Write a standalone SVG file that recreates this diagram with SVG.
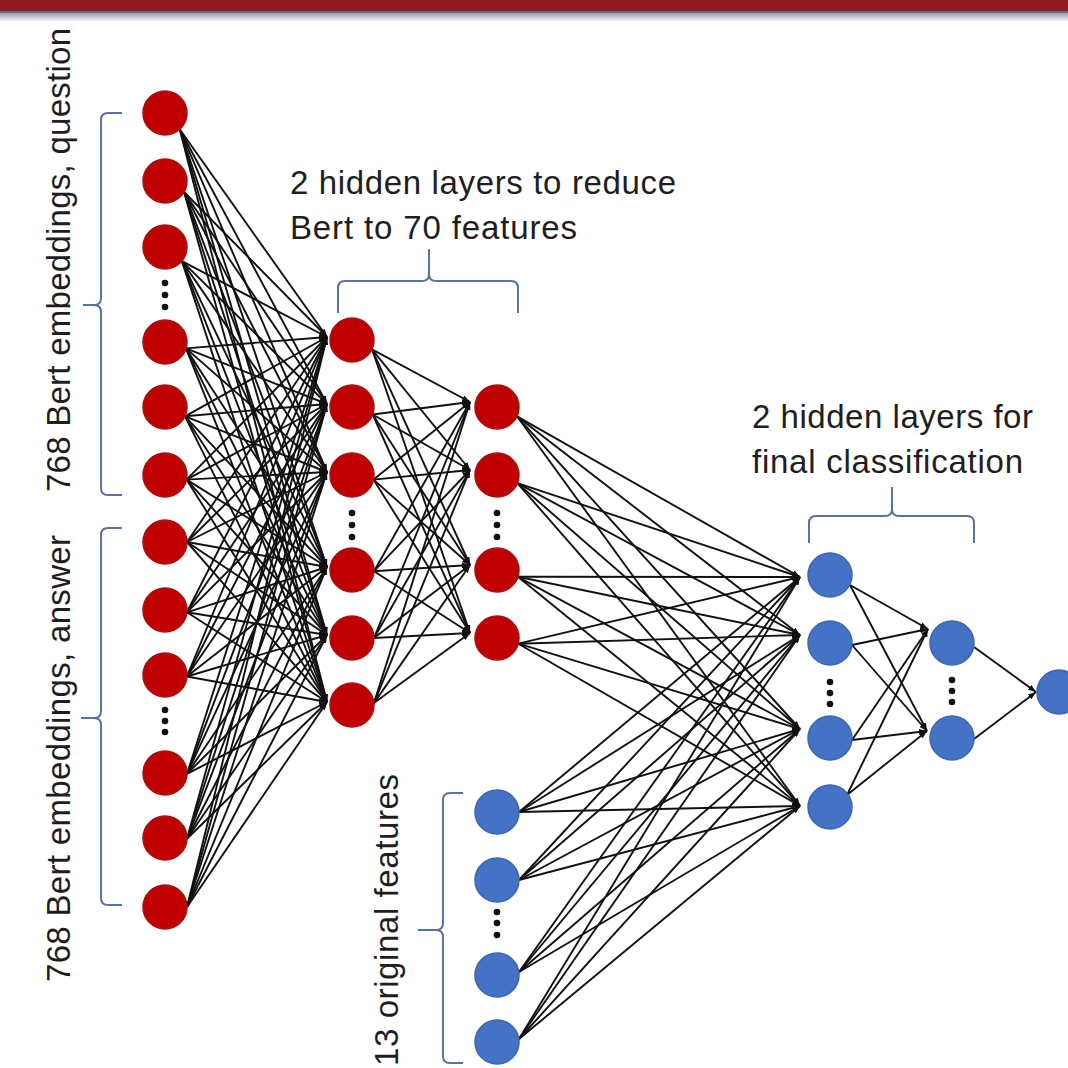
<svg xmlns="http://www.w3.org/2000/svg" width="1068" height="1068" viewBox="0 0 1068 1068">
<defs>
<linearGradient id="shadow" x1="0" y1="0" x2="0" y2="1">
<stop offset="0" stop-color="#9aa0aa"/>
<stop offset="1" stop-color="#ffffff"/>
</linearGradient>
<marker id="arr" markerUnits="userSpaceOnUse" markerWidth="8" markerHeight="6" refX="8" refY="3" orient="auto">
<path d="M0,0 L8,3 L0,6 z" fill="#111"/>
</marker>
</defs>
<style>
.c line{stroke:#111;stroke-width:1.9;marker-end:url(#arr)}
.r{fill:#c00000;stroke:#a51212;stroke-width:1.5}
.b{fill:#4472c4;stroke:#3c66b2;stroke-width:1.5}
.d{fill:#111}
.br{fill:none;stroke:#5873a3;stroke-width:2}
.t{font-family:"Liberation Sans",Arial,sans-serif;font-size:33px;fill:#1e1e1e}
</style>
<rect x="0" y="0" width="1068" height="1068" fill="#ffffff"/>
<g id="top-bar">
<rect x="0" y="0" width="1068" height="11" fill="#8e1b1e"/>
<rect x="0" y="11" width="1068" height="2" fill="#5a6b8c"/>
<rect x="0" y="13" width="1068" height="9" fill="url(#shadow)"/>
</g>
<g id="connectors" class="c">
<!-- input -> hidden1 -->
<line x1="179.7" y1="129.3" x2="327" y2="337"/><line x1="179.7" y1="129.3" x2="327" y2="404"/><line x1="179.7" y1="129.3" x2="327" y2="472"/><line x1="179.7" y1="129.3" x2="327" y2="567"/><line x1="179.7" y1="129.3" x2="327" y2="635"/><line x1="179.7" y1="129.3" x2="327" y2="702"/>
<line x1="184.1" y1="192" x2="327" y2="337"/><line x1="184.1" y1="192" x2="327" y2="404"/><line x1="184.1" y1="192" x2="327" y2="472"/><line x1="184.1" y1="192" x2="327" y2="567"/><line x1="184.1" y1="192" x2="327" y2="635"/><line x1="184.1" y1="192" x2="327" y2="702"/>
<line x1="181.9" y1="261.1" x2="327" y2="337"/><line x1="181.9" y1="261.1" x2="327" y2="404"/><line x1="181.9" y1="261.1" x2="327" y2="472"/><line x1="181.9" y1="261.1" x2="327" y2="567"/><line x1="181.9" y1="261.1" x2="327" y2="635"/><line x1="181.9" y1="261.1" x2="327" y2="702"/>
<line x1="186" y1="348.4" x2="327" y2="337"/><line x1="186" y1="348.4" x2="327" y2="404"/><line x1="186" y1="348.4" x2="327" y2="472"/><line x1="186" y1="348.4" x2="327" y2="567"/><line x1="186" y1="348.4" x2="327" y2="635"/><line x1="186" y1="348.4" x2="327" y2="702"/>
<line x1="185" y1="416.3" x2="327" y2="337"/><line x1="185" y1="416.3" x2="327" y2="404"/><line x1="185" y1="416.3" x2="327" y2="472"/><line x1="185" y1="416.3" x2="327" y2="567"/><line x1="185" y1="416.3" x2="327" y2="635"/><line x1="185" y1="416.3" x2="327" y2="702"/>
<line x1="186.5" y1="479.6" x2="327" y2="337"/><line x1="186.5" y1="479.6" x2="327" y2="404"/><line x1="186.5" y1="479.6" x2="327" y2="472"/><line x1="186.5" y1="479.6" x2="327" y2="567"/><line x1="186.5" y1="479.6" x2="327" y2="635"/><line x1="186.5" y1="479.6" x2="327" y2="702"/>
<line x1="187" y1="542" x2="327" y2="337"/><line x1="187" y1="542" x2="327" y2="404"/><line x1="187" y1="542" x2="327" y2="472"/><line x1="187" y1="542" x2="327" y2="567"/><line x1="187" y1="542" x2="327" y2="635"/><line x1="187" y1="542" x2="327" y2="702"/>
<line x1="186.9" y1="612.3" x2="327" y2="337"/><line x1="186.9" y1="612.3" x2="327" y2="404"/><line x1="186.9" y1="612.3" x2="327" y2="472"/><line x1="186.9" y1="612.3" x2="327" y2="567"/><line x1="186.9" y1="612.3" x2="327" y2="635"/><line x1="186.9" y1="612.3" x2="327" y2="702"/>
<line x1="186.9" y1="676.5" x2="327" y2="337"/><line x1="186.9" y1="676.5" x2="327" y2="404"/><line x1="186.9" y1="676.5" x2="327" y2="472"/><line x1="186.9" y1="676.5" x2="327" y2="567"/><line x1="186.9" y1="676.5" x2="327" y2="635"/><line x1="186.9" y1="676.5" x2="327" y2="702"/>
<line x1="187" y1="773.8" x2="327" y2="337"/><line x1="187" y1="773.8" x2="327" y2="404"/><line x1="187" y1="773.8" x2="327" y2="472"/><line x1="187" y1="773.8" x2="327" y2="567"/><line x1="187" y1="773.8" x2="327" y2="635"/><line x1="187" y1="773.8" x2="327" y2="702"/>
<line x1="187" y1="838.8" x2="327" y2="337"/><line x1="187" y1="838.8" x2="327" y2="404"/><line x1="187" y1="838.8" x2="327" y2="472"/><line x1="187" y1="838.8" x2="327" y2="567"/><line x1="187" y1="838.8" x2="327" y2="635"/><line x1="187" y1="838.8" x2="327" y2="702"/>
<line x1="187" y1="907" x2="327" y2="337"/><line x1="187" y1="907" x2="327" y2="404"/><line x1="187" y1="907" x2="327" y2="472"/><line x1="187" y1="907" x2="327" y2="567"/><line x1="187" y1="907" x2="327" y2="635"/><line x1="187" y1="907" x2="327" y2="702"/>
<!-- hidden1 -> hidden2 -->
<line x1="372" y1="349.3" x2="470" y2="402"/><line x1="372" y1="349.3" x2="470" y2="470"/><line x1="372" y1="349.3" x2="470" y2="565"/><line x1="372" y1="349.3" x2="470" y2="633"/>
<line x1="372.7" y1="414.5" x2="470" y2="402"/><line x1="372.7" y1="414.5" x2="470" y2="470"/><line x1="372.7" y1="414.5" x2="470" y2="565"/><line x1="372.7" y1="414.5" x2="470" y2="633"/>
<line x1="373.5" y1="479.6" x2="470" y2="402"/><line x1="373.5" y1="479.6" x2="470" y2="470"/><line x1="373.5" y1="479.6" x2="470" y2="565"/><line x1="373.5" y1="479.6" x2="470" y2="633"/>
<line x1="374" y1="571.2" x2="470" y2="402"/><line x1="374" y1="571.2" x2="470" y2="470"/><line x1="374" y1="571.2" x2="470" y2="565"/><line x1="374" y1="571.2" x2="470" y2="633"/>
<line x1="374" y1="638" x2="470" y2="402"/><line x1="374" y1="638" x2="470" y2="470"/><line x1="374" y1="638" x2="470" y2="565"/><line x1="374" y1="638" x2="470" y2="633"/>
<line x1="373.9" y1="703.1" x2="470" y2="402"/><line x1="373.9" y1="703.1" x2="470" y2="470"/><line x1="373.9" y1="703.1" x2="470" y2="565"/><line x1="373.9" y1="703.1" x2="470" y2="633"/>
<!-- hidden2 -> classification layer 1 -->
<line x1="517" y1="416.3" x2="800" y2="577"/><line x1="517" y1="416.3" x2="800" y2="635"/><line x1="517" y1="416.3" x2="800" y2="729"/><line x1="517" y1="416.3" x2="800" y2="806"/>
<line x1="517.4" y1="483.2" x2="800" y2="577"/><line x1="517.4" y1="483.2" x2="800" y2="635"/><line x1="517.4" y1="483.2" x2="800" y2="729"/><line x1="517.4" y1="483.2" x2="800" y2="806"/>
<line x1="517.9" y1="576.8" x2="800" y2="577"/><line x1="517.9" y1="576.8" x2="800" y2="635"/><line x1="517.9" y1="576.8" x2="800" y2="729"/><line x1="517.9" y1="576.8" x2="800" y2="806"/>
<line x1="518.3" y1="643.7" x2="800" y2="577"/><line x1="518.3" y1="643.7" x2="800" y2="635"/><line x1="518.3" y1="643.7" x2="800" y2="729"/><line x1="518.3" y1="643.7" x2="800" y2="806"/>
<!-- original features -> classification layer 1 -->
<line x1="519" y1="812" x2="800" y2="577"/><line x1="519" y1="812" x2="800" y2="635"/><line x1="519" y1="812" x2="800" y2="729"/><line x1="519" y1="812" x2="800" y2="806"/>
<line x1="519" y1="880" x2="800" y2="577"/><line x1="519" y1="880" x2="800" y2="635"/><line x1="519" y1="880" x2="800" y2="729"/><line x1="519" y1="880" x2="800" y2="806"/>
<line x1="519" y1="972" x2="800" y2="577"/><line x1="519" y1="972" x2="800" y2="635"/><line x1="519" y1="972" x2="800" y2="729"/><line x1="519" y1="972" x2="800" y2="806"/>
<line x1="519" y1="1039" x2="800" y2="577"/><line x1="519" y1="1039" x2="800" y2="635"/><line x1="519" y1="1039" x2="800" y2="729"/><line x1="519" y1="1039" x2="800" y2="806"/>
<!-- classification layer 1 -> layer 2 -->
<line x1="850" y1="585" x2="928" y2="629"/><line x1="850" y1="585" x2="927" y2="731"/>
<line x1="852" y1="645" x2="928" y2="629"/><line x1="852" y1="645" x2="927" y2="731"/>
<line x1="852" y1="740" x2="928" y2="629"/><line x1="852" y1="740" x2="927" y2="731"/>
<line x1="847" y1="795" x2="928" y2="629"/><line x1="847" y1="795" x2="927" y2="731"/>
<!-- layer 2 -> output -->
<line x1="974" y1="647" x2="1036" y2="692"/><line x1="974" y1="739" x2="1036" y2="692"/>
</g>
<g id="input-layer">
<circle class="r" cx="165" cy="113" r="22"/>
<circle class="r" cx="165" cy="181" r="22"/>
<circle class="r" cx="165" cy="247" r="22"/>
<circle class="r" cx="165" cy="342" r="22"/>
<circle class="r" cx="165" cy="407" r="22"/>
<circle class="r" cx="165" cy="475" r="22"/>
<circle class="r" cx="165" cy="542" r="22"/>
<circle class="r" cx="165" cy="610" r="22"/>
<circle class="r" cx="165" cy="675" r="22"/>
<circle class="r" cx="165" cy="773" r="22"/>
<circle class="r" cx="165" cy="838" r="22"/>
<circle class="r" cx="165" cy="907" r="22"/>
<g class="d"><circle cx="165" cy="283" r="3.3"/><circle cx="165" cy="295" r="3.3"/><circle cx="165" cy="307" r="3.3"/>
<circle cx="165" cy="710" r="3.3"/><circle cx="165" cy="721" r="3.3"/><circle cx="165" cy="732" r="3.3"/></g>
</g>
<g id="hidden-layer-1">
<circle class="r" cx="352" cy="340" r="22"/>
<circle class="r" cx="352" cy="407" r="22"/>
<circle class="r" cx="352" cy="475" r="22"/>
<circle class="r" cx="352" cy="570" r="22"/>
<circle class="r" cx="352" cy="638" r="22"/>
<circle class="r" cx="352" cy="705" r="22"/>
<g class="d"><circle cx="352" cy="513" r="3.3"/><circle cx="352" cy="525" r="3.3"/><circle cx="352" cy="537" r="3.3"/></g>
</g>
<g id="hidden-layer-2">
<circle class="r" cx="497" cy="407" r="22"/>
<circle class="r" cx="497" cy="475" r="22"/>
<circle class="r" cx="497" cy="570" r="22"/>
<circle class="r" cx="497" cy="638" r="22"/>
<g class="d"><circle cx="497" cy="513" r="3.3"/><circle cx="497" cy="525" r="3.3"/><circle cx="497" cy="537" r="3.3"/></g>
</g>
<g id="original-features">
<circle class="b" cx="497" cy="812" r="22"/>
<circle class="b" cx="497" cy="880" r="22"/>
<circle class="b" cx="497" cy="975" r="22"/>
<circle class="b" cx="497" cy="1042" r="22"/>
<g class="d"><circle cx="497" cy="912" r="3.3"/><circle cx="497" cy="923" r="3.3"/><circle cx="497" cy="935" r="3.3"/></g>
</g>
<g id="classification-layer-1">
<circle class="b" cx="830" cy="575" r="22"/>
<circle class="b" cx="830" cy="643" r="22"/>
<circle class="b" cx="830" cy="738" r="22"/>
<circle class="b" cx="830" cy="807" r="22"/>
<g class="d"><circle cx="830" cy="682" r="3.3"/><circle cx="830" cy="693" r="3.3"/><circle cx="830" cy="704" r="3.3"/></g>
</g>
<g id="classification-layer-2">
<circle class="b" cx="952" cy="643" r="22"/>
<circle class="b" cx="952" cy="738" r="22"/>
<g class="d"><circle cx="952" cy="680" r="3.3"/><circle cx="952" cy="691" r="3.3"/><circle cx="952" cy="702" r="3.3"/></g>
</g>
<g id="output">
<circle class="b" cx="1059" cy="692" r="22"/>
</g>
<g id="brackets" class="br">
<path d="M122,113 L108,113 Q101,113 101,120 L101,298 Q101,305 94,305 L83,305 M94,305 Q101,305 101,312 L101,488 Q101,495 108,495 L122,495"/>
<path d="M122,528 L108,528 Q101,528 101,535 L101,711 Q101,718 94,718 L81,718 M94,718 Q101,718 101,725 L101,898 Q101,905 108,905 L122,905"/>
<path d="M463,793 L450,793 Q443,793 443,800 L443,923 Q443,930 436,930 L418,930 M436,930 Q443,930 443,937 L443,1056 Q443,1063 450,1063 L463,1063"/>
<path d="M338,313 L338,288 Q338,281 345,281 L422,281 Q429,281 429,274 L429,249 M429,274 Q429,281 436,281 L511,281 Q518,281 518,288 L518,313"/>
<path d="M809,543 L809,523 Q809,516 816,516 L885,516 Q892,516 892,509 L892,487 M892,509 Q892,516 899,516 L967,516 Q974,516 974,523 L974,543"/>
</g>
<g id="labels" class="t">
<text x="290" y="194" textLength="386" lengthAdjust="spacing">2 hidden layers to reduce</text>
<text x="290" y="239" textLength="287" lengthAdjust="spacing">Bert to 70 features</text>
<text x="752" y="428" textLength="281" lengthAdjust="spacing">2 hidden layers for</text>
<text x="752" y="473" textLength="271" lengthAdjust="spacing">final classification</text>
<text transform="translate(70,492) rotate(-90)" textLength="464" lengthAdjust="spacing">768 Bert embeddings, question</text>
<text transform="translate(70,982) rotate(-90)" textLength="447" lengthAdjust="spacing">768 Bert embeddings, answer</text>
<text transform="translate(398,1066) rotate(-90)" textLength="292" lengthAdjust="spacing">13 original features</text>
</g>
</svg>
